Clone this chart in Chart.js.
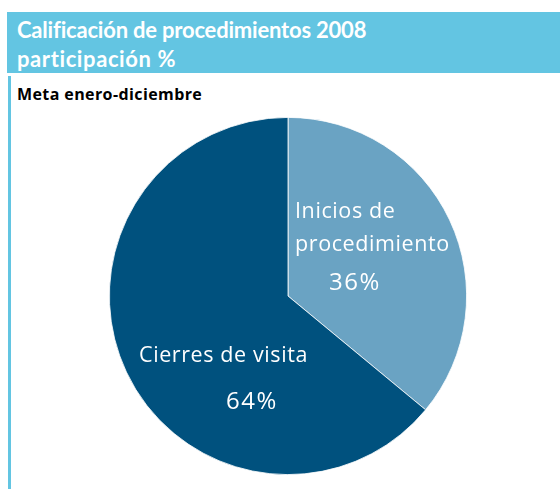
<!DOCTYPE html>
<html>
<head>
<meta charset="utf-8">
<script src="https://cdn.jsdelivr.net/npm/chart.js@4"></script>
<style>
  body { margin: 0; width: 560px; height: 489px; background: #fff; position: relative; overflow: hidden; font-family: Lato, "Noto Sans", sans-serif; }
  .banner { position: absolute; left: 7px; top: 12px; width: 553px; height: 61px; background: #63c5e2; }
  .banner div { position: absolute; left: 10px; color: #fff; font-weight: 700; font-size: 22px; white-space: nowrap; }
  .side { position: absolute; left: 8px; top: 76px; width: 3px; height: 413px; background: #63c5e2; }
  .sub { position: absolute; left: 17px; top: 83px; font-family: "Open Sans", sans-serif; font-weight: 700; font-size: 16px; letter-spacing: 0.4px; color: #000; }
  .wrap { position: absolute; left: 109px; top: 117px; width: 358px; height: 358px; }
</style>
</head>
<body>
<div class="banner">
  <div style="top:4px; letter-spacing:-0.2px">Calificación de procedimientos 2008</div>
  <div style="top:33px; letter-spacing:0.6px">participación %</div>
</div>
<div class="side"></div>
<div class="sub">Meta enero-diciembre</div>
<div class="wrap"><canvas id="chart"></canvas></div>
<script>
// datos
const categorias = ["Inicios de procedimiento", "Cierres de visita"];
const valores = [36, 64];
const colores = ["#6aa3c3", "#00517e"];
const etiquetas = [["Inicios de", "procedimiento"], ["Cierres de visita"]];

// texto dentro de cada sector, desplazado desde el centro del pastel
const labelPlugin = {
  id: "sliceLabels",
  afterDatasetsDraw(chart) {
    const c = chart.ctx;
    const arcs = chart.getDatasetMeta(0).data;
    const pos = [
      { x: 7, y: -78, px: 41, py: -6 },
      { x: -149, y: 66, px: -62, py: 113 }
    ];
    c.save();
    c.fillStyle = "#fff";
    c.textAlign = "left";
    c.textBaseline = "alphabetic";
    arcs.forEach((arc, i) => {
      const p = pos[i];
      c.font = "21.5px 'Open Sans'";
      c.letterSpacing = "0.6px";
      etiquetas[i].forEach((ln, k) => {
        c.fillText(ln, arc.x + p.x, arc.y + p.y + k * 33);
      });
      c.font = "24px 'Open Sans'";
      c.letterSpacing = "1.5px";
      c.fillText(valores[i] + "%", arc.x + p.px, arc.y + p.py);
    });
    c.restore();
  }
};

new Chart(document.getElementById("chart"), {
  type: "pie",
  data: {
    labels: categorias,
    datasets: [{
      data: valores,
      backgroundColor: colores,
      borderColor: "#ffffff",
      borderWidth: 0.8
    }]
  },
  options: {
    responsive: true,
    maintainAspectRatio: false,
    animation: false,
    layout: { padding: 0 },
    plugins: {
      legend: { display: false },
      tooltip: { enabled: false }
    }
  },
  plugins: [labelPlugin]
});
</script>
</body>
</html>
